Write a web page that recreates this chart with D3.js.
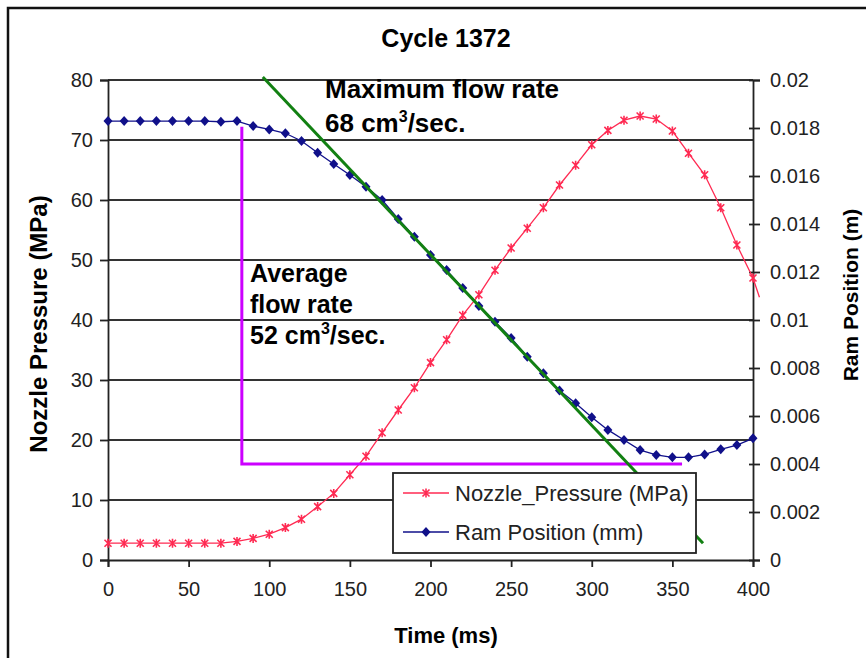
<!DOCTYPE html>
<html>
<head>
<meta charset="utf-8">
<script src="https://cdn.jsdelivr.net/npm/d3@7"></script>
<style>
  body { margin: 0; background: #fff; }
  svg { display: block; font-family: Arial, "Liberation Sans", sans-serif; }
</style>
</head>
<body>
<svg id="chart" width="866" height="658"></svg>
<script>
// time of each sample (ms)
const timeMs = [0, 10, 20, 30, 40, 50, 60, 70, 80, 90, 100, 110, 120, 130, 140, 150, 160, 170, 180, 190, 200,
  210, 220, 230, 240, 250, 260, 270, 280, 290, 300, 310, 320, 330, 340, 350, 360, 370, 380, 390, 400];
const pressureTime = timeMs.concat([404]);

// Nozzle pressure (MPa), left axis
const nozzlePressure = [2.8, 2.8, 2.8, 2.8, 2.8, 2.8, 2.8, 2.8, 3.1, 3.6, 4.3, 5.4, 6.8, 8.9, 11.1, 14.2, 17.3, 21.2,
  25.0, 28.7, 32.9, 36.7, 40.8, 44.2, 48.3, 52.0, 55.3, 58.7, 62.5, 65.8, 69.2, 71.6, 73.3, 74.0, 73.5, 71.5,
  67.8, 64.2, 58.7, 52.5, 47.0, 43.8];

// Ram position (m), right axis
const ramPosition = [0.01829, 0.01829, 0.01829, 0.01829, 0.01829, 0.01829, 0.01829, 0.01826, 0.01829, 0.01808,
  0.01794, 0.01778, 0.01746, 0.01697, 0.0165, 0.01604, 0.01555, 0.015, 0.01421, 0.01347, 0.01271, 0.01208,
  0.01133, 0.01058, 0.00993, 0.00925, 0.00847, 0.00778, 0.00706, 0.00653, 0.00595, 0.00542, 0.005, 0.00458,
  0.00438, 0.00428, 0.00428, 0.0044, 0.00461, 0.00479, 0.00507];

// annotation lines, in (ms, MPa)
const maxRateLine = [[96, 80.5], [369, 2.8]];
const avgRateLine = [[83, 72.2], [83, 16], [356, 16]];

const xTicks = [0, 50, 100, 150, 200, 250, 300, 350, 400];
const leftTicks = [0, 10, 20, 30, 40, 50, 60, 70, 80];
const rightTicks = [0, 0.002, 0.004, 0.006, 0.008, 0.01, 0.012, 0.014, 0.016, 0.018, 0.02];

const svg = d3.select('#chart');

const plot = { left: 108, right: 753, top: 80, bottom: 560 };

const x = d3.scaleLinear().domain([0, 400]).range([plot.left, plot.right]);
const yLeft = d3.scaleLinear().domain([0, 80]).range([plot.bottom, plot.top]);
const yRight = d3.scaleLinear().domain([0, 0.02]).range([plot.bottom, plot.top]);

// outer frame
svg.append('rect')
  .attr('x', 8).attr('y', 8)
  .attr('width', 880).attr('height', 680)
  .attr('fill', '#fff')
  .attr('stroke', '#111')
  .attr('stroke-width', 2.5);

// title
svg.append('text')
  .attr('x', 446).attr('y', 47)
  .attr('text-anchor', 'middle')
  .attr('font-size', 25).attr('font-weight', 'bold')
  .text('Cycle 1372');

// horizontal gridlines
svg.append('g')
  .selectAll('line')
  .data(leftTicks.filter(d => d > 0))
  .join('line')
  .attr('x1', plot.left).attr('x2', plot.right)
  .attr('y1', d => yLeft(d)).attr('y2', d => yLeft(d))
  .attr('stroke', '#333').attr('stroke-width', 1.8);

// axes
const xAxis = d3.axisBottom(x).tickValues(xTicks).tickSize(7).tickPadding(15);
const leftAxis = d3.axisLeft(yLeft).tickValues(leftTicks).tickSize(8).tickPadding(7);
const rightAxis = d3.axisRight(yRight).tickValues(rightTicks).tickSize(7).tickPadding(10)
  .tickFormat(d => d === 0 ? '0' : String(+d.toFixed(3)));

function styleAxis(g) {
  g.select('.domain').attr('stroke', '#222').attr('stroke-width', 1.8);
  g.selectAll('.tick line').attr('stroke', '#222').attr('stroke-width', 1.8);
  g.selectAll('.tick text').attr('fill', '#222').attr('font-size', 20)
    .attr('font-family', 'Arial, "Liberation Sans", sans-serif');
}

svg.append('g')
  .attr('transform', `translate(0,${plot.bottom})`)
  .call(xAxis).call(styleAxis);

svg.append('g')
  .attr('transform', `translate(${plot.left},0)`)
  .call(leftAxis).call(styleAxis);

const rg = svg.append('g')
  .attr('transform', `translate(${plot.right},0)`)
  .call(rightAxis).call(styleAxis);
// right ticks cross the axis
rg.selectAll('.tick line').attr('x1', -4);

// axis titles
svg.append('text')
  .attr('x', 446).attr('y', 643)
  .attr('text-anchor', 'middle')
  .attr('font-size', 22).attr('font-weight', 'bold')
  .text('Time (ms)');

svg.append('text')
  .attr('transform', 'translate(47,324) rotate(-90)')
  .attr('text-anchor', 'middle')
  .attr('font-size', 24).attr('font-weight', 'bold')
  .text('Nozzle Pressure (MPa)');

svg.append('text')
  .attr('transform', 'translate(858,295) rotate(-90)')
  .attr('text-anchor', 'middle')
  .attr('font-size', 21).attr('font-weight', 'bold')
  .text('Ram Position (m)');

const red = '#ff2a52';
const navy = '#10108a';
const diamond = 'M0,-5L4.5,0L0,5L-4.5,0Z';
const star = 'M-3.5,-3.5L3.5,3.5M-3.5,3.5L3.5,-3.5M0,-4.5L0,4.5';

// ram position series
const ramData = timeMs.map((t, i) => [t, ramPosition[i]]);
svg.append('path')
  .datum(ramData)
  .attr('fill', 'none')
  .attr('stroke', navy).attr('stroke-width', 1.3)
  .attr('d', d3.line().x(d => x(d[0])).y(d => yRight(d[1])));

svg.append('g')
  .selectAll('path')
  .data(ramData)
  .join('path')
  .attr('transform', d => `translate(${x(d[0])},${yRight(d[1])})`)
  .attr('d', diamond)
  .attr('fill', navy);

// nozzle pressure series
const presData = pressureTime.map((t, i) => [t, nozzlePressure[i]]);
svg.append('path')
  .datum(presData)
  .attr('fill', 'none')
  .attr('stroke', red).attr('stroke-width', 1.3)
  .attr('d', d3.line().x(d => x(d[0])).y(d => yLeft(d[1])));

svg.append('g')
  .selectAll('path')
  .data(presData.slice(0, timeMs.length))
  .join('path')
  .attr('transform', d => `translate(${x(d[0])},${yLeft(d[1])})`)
  .attr('d', star)
  .attr('fill', 'none')
  .attr('stroke', red).attr('stroke-width', 1.6);

// annotation lines
const annLine = d3.line().x(d => x(d[0])).y(d => yLeft(d[1]));

svg.append('path')
  .datum(avgRateLine)
  .attr('fill', 'none')
  .attr('stroke', '#cc00ff').attr('stroke-width', 3)
  .attr('d', annLine);

svg.append('path')
  .datum(maxRateLine)
  .attr('fill', 'none')
  .attr('stroke', '#128012').attr('stroke-width', 3)
  .attr('d', annLine);

// annotation text
function note(lines, x0, y0, step, size) {
  const t = svg.append('g');
  lines.forEach((ln, i) => {
    const txt = t.append('text')
      .attr('x', x0).attr('y', y0 + i * step)
      .attr('font-size', size).attr('font-weight', 'bold')
      .attr('fill', '#000');
    ln.forEach(part => {
      const s = txt.append('tspan').text(part.t);
      if (part.sup) s.attr('font-size', 16).attr('dy', -10);
      if (part.after) s.attr('dy', 10);
    });
  });
}

note([
  [{ t: 'Maximum flow rate' }],
  [{ t: '68 cm' }, { t: '3', sup: true }, { t: '/sec.', after: true }]
], 325, 98, 34, 26);

note([
  [{ t: 'Average' }],
  [{ t: 'flow rate' }],
  [{ t: '52 cm' }, { t: '3', sup: true }, { t: '/sec.', after: true }]
], 250, 282, 31, 25);

// legend
const legend = svg.append('g').attr('transform', 'translate(393,473)');
legend.append('rect')
  .attr('width', 303).attr('height', 80)
  .attr('fill', '#fff')
  .attr('stroke', '#222').attr('stroke-width', 1.8);

const legendItems = [
  { label: 'Nozzle_Pressure (MPa)', color: red, marker: star, y: 20 },
  { label: 'Ram Position (mm)', color: navy, marker: diamond, y: 59 }
];

legendItems.forEach(it => {
  legend.append('line')
    .attr('x1', 10).attr('x2', 56)
    .attr('y1', it.y).attr('y2', it.y)
    .attr('stroke', it.color).attr('stroke-width', 1.5);
  const m = legend.append('path')
    .attr('transform', `translate(33,${it.y})`)
    .attr('d', it.marker);
  if (it.marker === star) m.attr('fill', 'none').attr('stroke', it.color).attr('stroke-width', 1.6);
  else m.attr('fill', it.color);
  legend.append('text')
    .attr('x', 62).attr('y', it.y + 8)
    .attr('font-size', 22).attr('fill', '#222')
    .text(it.label);
});
</script>
</body>
</html>
